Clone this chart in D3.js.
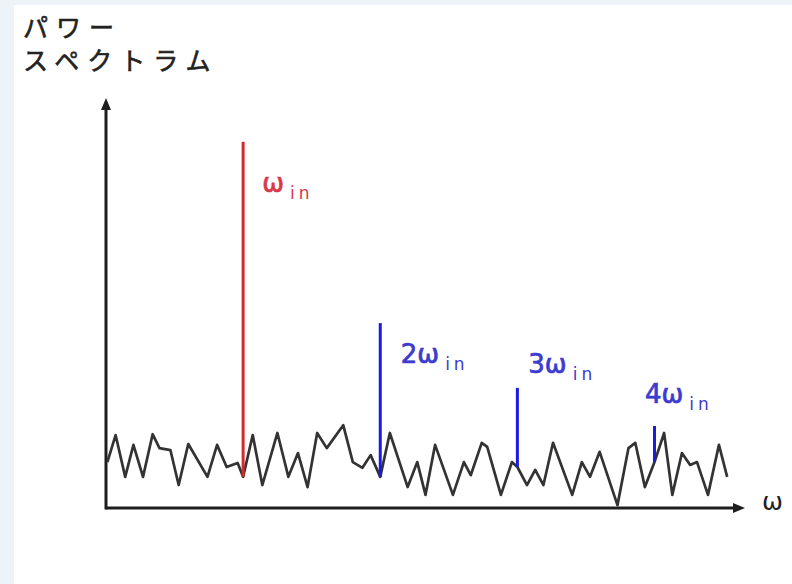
<!DOCTYPE html>
<html>
<head>
<meta charset="utf-8">
<script src="https://cdn.jsdelivr.net/npm/d3@7"></script>
<style>
  body { margin: 0; background: #eef3fa; }
  svg { display: block; }
</style>
</head>
<body>
<script>
// noise floor, x in units of w_in, y in arbitrary power units
var noiseW = [0.01, 0.07, 0.14, 0.20, 0.27, 0.34, 0.39, 0.47, 0.53, 0.60, 0.74, 0.81, 0.88, 0.96, 1.00,
              1.07, 1.14, 1.25, 1.33, 1.40, 1.47, 1.54, 1.61, 1.73, 1.80, 1.87, 1.93, 2.00,
              2.07, 2.20, 2.27, 2.33, 2.40, 2.53, 2.61, 2.66, 2.74, 2.78, 2.88, 2.96, 3.00,
              3.07, 3.13, 3.19, 3.26, 3.40, 3.47, 3.53, 3.60, 3.73, 3.81, 3.86, 3.93, 4.00,
              4.07, 4.13, 4.20, 4.26, 4.31, 4.39, 4.47, 4.53];
var noiseP = [11.2, 17.8, 7.6, 15.4, 7.6, 18.0, 14.6, 14.1, 5.6, 15.6, 7.6, 15.4, 10.0, 11.0, 7.6,
              17.8, 5.6, 18.3, 7.6, 13.4, 5.1, 18.3, 14.6, 20.2, 11.2, 9.8, 12.9, 7.6,
              18.3, 5.1, 11.2, 3.2, 15.4, 3.2, 11.2, 8.0, 15.9, 14.9, 3.2, 11.2, 10.0,
              5.6, 9.3, 5.6, 15.9, 3.2, 11.2, 7.6, 13.7, 0.7, 14.6, 15.9, 5.1, 11.2,
              18.3, 3.2, 13.4, 10.5, 11.2, 3.2, 15.4, 7.6];

// harmonic peaks
var harmW = [1, 2, 3, 4];
var harmTop = [89.3, 45.1, 29.3, 20.0];
var harmBase = [7.6, 7.6, 10.0, 11.2];
var harmPrefix = ["", "2", "3", "4"];
var harmColor = ["#d42a2a", "#1a1ae0", "#1a1ae0", "#1a1ae0"];
var labelColor = ["#d83848", "#3b3bd0", "#3b3bd0", "#3b3bd0"];
// label anchors in data units
var labelW = [1.14, 2.15, 3.08, 3.93];
var labelP = [77.1, 35.4, 32.9, 25.6];

var yTitle = ["パワー", "スペクトラム"];
var xTitle = "ω";

var width = 792, height = 584;

var svg = d3.select("body").append("svg")
    .attr("width", width)
    .attr("height", height);

svg.append("rect")
    .attr("x", 14).attr("y", 5)
    .attr("width", width - 14).attr("height", height - 5)
    .attr("fill", "#ffffff");

var x = d3.scaleLinear().domain([0, 4.66]).range([106, 745]);
var y = d3.scaleLinear().domain([0, 100]).range([508, 98]);

// axes
svg.append("line")
    .attr("x1", x(0)).attr("y1", y(0))
    .attr("x2", x(4.6)).attr("y2", y(0))
    .attr("stroke", "#1e1e1e").attr("stroke-width", 3);
svg.append("line")
    .attr("x1", x(0)).attr("y1", y(0) + 1.5)
    .attr("x2", x(0)).attr("y2", y(98))
    .attr("stroke", "#1e1e1e").attr("stroke-width", 3);

// arrow heads
svg.append("path")
    .attr("d", "M" + x(4.66) + "," + y(0) + "l-12,-5l0,10z")
    .attr("fill", "#1e1e1e");
svg.append("path")
    .attr("d", "M" + x(0) + "," + y(100) + "l-5,12l10,0z")
    .attr("fill", "#1e1e1e");

// noise
var noise = noiseW.map(function(w, i) { return [w, noiseP[i]]; });
var line = d3.line()
    .x(function(d) { return x(d[0]); })
    .y(function(d) { return y(d[1]); });

svg.append("path")
    .datum(noise)
    .attr("d", line)
    .attr("fill", "none")
    .attr("stroke", "#333")
    .attr("stroke-width", 2.7)
    .attr("stroke-linejoin", "round");

// harmonic lines
svg.selectAll(".harm")
    .data(harmW)
    .enter()
    .append("line")
    .attr("class", "harm")
    .attr("x1", function(d) { return x(d); })
    .attr("x2", function(d) { return x(d); })
    .attr("y1", function(d, i) { return y(harmBase[i]); })
    .attr("y2", function(d, i) { return y(harmTop[i]); })
    .attr("stroke", function(d, i) { return harmColor[i]; })
    .attr("stroke-width", 3);

// harmonic labels
var lab = svg.selectAll(".hlab")
    .data(harmW)
    .enter()
    .append("text")
    .attr("class", "hlab")
    .attr("x", function(d, i) { return x(labelW[i]); })
    .attr("y", function(d, i) { return y(labelP[i]); })
    .attr("fill", function(d, i) { return labelColor[i]; })
    .style("font-family", "'DejaVu Sans', sans-serif")
    .style("font-size", "26px");
lab.append("tspan")
    .attr("stroke", function(d, i) { return labelColor[i]; })
    .attr("stroke-width", 0.7)
    .text(function(d, i) { return harmPrefix[i] + "ω"; });
lab.append("tspan")
    .attr("dx", 6)
    .attr("dy", 7)
    .style("font-size", "17px")
    .style("letter-spacing", "4px")
    .text("in");

// titles
svg.selectAll(".ytitle")
    .data(yTitle)
    .enter()
    .append("text")
    .attr("class", "ytitle")
    .attr("x", 23)
    .attr("y", function(d, i) { return 37 + i * 33; })
    .attr("fill", "#222")
    .attr("stroke", "#222")
    .attr("stroke-width", 0.6)
    .style("font-family", "'Noto Sans CJK JP', sans-serif")
    .style("font-size", "25px")
    .style("letter-spacing", "8px")
    .text(function(d) { return d; });

svg.append("text")
    .attr("x", 762)
    .attr("y", 510)
    .attr("fill", "#222")
    .style("font-family", "'DejaVu Sans', sans-serif")
    .style("font-size", "25px")
    .text(xTitle);
</script>
</body>
</html>
